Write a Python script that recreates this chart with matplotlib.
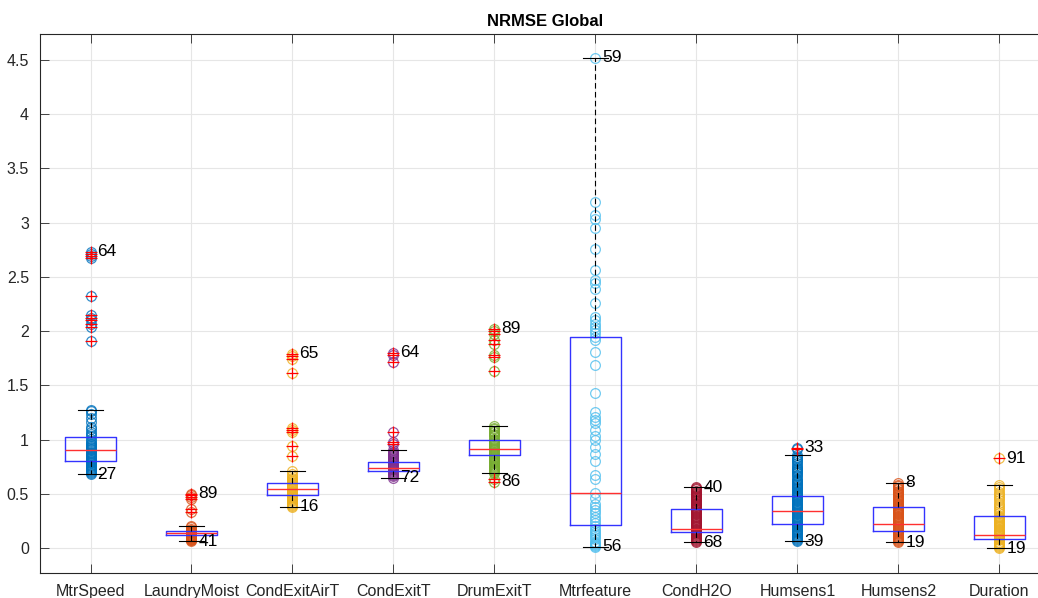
import matplotlib
matplotlib.use("Agg")
import matplotlib.pyplot as plt

plt.rcParams['font.family'] = ['Liberation Sans', 'DejaVu Sans']

# nombres de las variables
names = ['MtrSpeed', 'LaundryMoist', 'CondExitAirT', 'CondExitT', 'DrumExitT',
         'Mtrfeature', 'CondH2O', 'Humsens1', 'Humsens2', 'Duration']

# NRMSE de cada ensayo por variable
mtrspeed = [2.73, 2.71, 2.69, 2.67, 2.32, 2.15, 2.12, 2.10, 2.07, 2.04, 1.91,
            1.27, 1.26, 1.24, 1.20, 1.16, 1.12, 1.10, 1.07, 1.05, 1.03, 1.01, 0.99,
            0.97, 0.96, 0.95, 0.94, 0.93, 0.92, 0.91, 0.90, 0.89, 0.88, 0.87, 0.86,
            0.85, 0.84, 0.83, 0.82, 0.81, 0.80, 0.79, 0.78, 0.77, 0.76, 0.75, 0.74,
            0.73, 0.72, 0.71, 0.70, 0.69, 0.68]
laundrymoist = [0.50, 0.49, 0.47, 0.45, 0.36, 0.335,
                0.20, 0.19, 0.18, 0.17, 0.16, 0.155, 0.15, 0.145, 0.14, 0.135, 0.13,
                0.125, 0.12, 0.115, 0.11, 0.105, 0.10, 0.095, 0.09, 0.085, 0.08,
                0.075, 0.072, 0.065]
condexitairt = [1.79, 1.77, 1.74, 1.61, 1.11, 1.09, 1.07, 0.94, 0.85,
                0.71, 0.68, 0.66, 0.65, 0.64, 0.63, 0.62, 0.61, 0.60, 0.59, 0.58,
                0.57, 0.56, 0.555, 0.55, 0.54, 0.53, 0.52, 0.51, 0.50, 0.49, 0.48,
                0.47, 0.46, 0.45, 0.44, 0.43, 0.42, 0.41, 0.40, 0.39, 0.38]
condexitt = [1.80, 1.78, 1.72, 1.07, 0.98, 0.96,
             0.90, 0.89, 0.88, 0.87, 0.86, 0.85, 0.84, 0.83, 0.82, 0.81, 0.80, 0.79,
             0.78, 0.77, 0.76, 0.755, 0.75, 0.745, 0.74, 0.735, 0.73, 0.725, 0.72,
             0.71, 0.70, 0.69, 0.68, 0.67, 0.66, 0.65]
drumexitt = [2.02, 2.00, 1.97, 1.92, 1.88, 1.78, 1.76, 1.63, 0.64, 0.61,
             1.13, 1.11, 1.10, 1.08, 1.07, 1.05, 1.04, 1.03, 1.01, 1.00, 0.99, 0.98,
             0.97, 0.96, 0.95, 0.94, 0.93, 0.92, 0.91, 0.90, 0.89, 0.88, 0.87, 0.86,
             0.85, 0.84, 0.83, 0.82, 0.81, 0.80, 0.79, 0.78, 0.77, 0.76, 0.75, 0.74,
             0.73, 0.72, 0.71, 0.70, 0.69]
mtrfeature = [4.52, 3.19, 3.07, 3.03, 2.95, 2.76, 2.56, 2.47, 2.44, 2.39, 2.26,
              2.13, 2.10, 2.07, 2.04, 2.01, 1.98, 1.95, 1.92, 1.81, 1.69, 1.43,
              1.25, 1.21, 1.18, 1.15, 1.09, 1.03, 1.00, 0.93, 0.87, 0.80, 0.67,
              0.64, 0.505, 0.46, 0.41, 0.38, 0.35, 0.32, 0.29, 0.26, 0.23, 0.20,
              0.18, 0.16, 0.14, 0.12, 0.10, 0.08, 0.06, 0.05, 0.04, 0.03, 0.02, 0.01]
condh2o = [0.56, 0.55, 0.54, 0.53, 0.52, 0.51, 0.50, 0.49, 0.48, 0.47, 0.46,
           0.45, 0.44, 0.43, 0.42, 0.41, 0.40, 0.39, 0.38, 0.37, 0.36, 0.35, 0.34,
           0.33, 0.32, 0.31, 0.30, 0.29, 0.28, 0.27, 0.26, 0.25, 0.24, 0.23, 0.22,
           0.21, 0.20, 0.19, 0.18, 0.17, 0.16, 0.15, 0.14, 0.13, 0.12, 0.11, 0.10,
           0.09, 0.08, 0.07, 0.065, 0.053]
humsens1 = [0.925, 0.915,
            0.858, 0.84, 0.83, 0.81, 0.80, 0.78, 0.77, 0.75, 0.74, 0.73, 0.72,
            0.71, 0.70, 0.69, 0.67, 0.66, 0.64, 0.63, 0.62, 0.61, 0.60, 0.59, 0.58,
            0.57, 0.56, 0.55, 0.54, 0.53, 0.52, 0.51, 0.50, 0.49, 0.48, 0.47, 0.46,
            0.45, 0.44, 0.43, 0.42, 0.41, 0.40, 0.39, 0.38, 0.37, 0.36, 0.35, 0.34,
            0.33, 0.32, 0.31, 0.30, 0.29, 0.28, 0.27, 0.26, 0.25, 0.24, 0.23, 0.22,
            0.21, 0.20, 0.19, 0.18, 0.17, 0.16, 0.15, 0.14, 0.13, 0.12, 0.11, 0.10,
            0.09, 0.08, 0.07, 0.065]
humsens2 = [0.60, 0.58, 0.57, 0.55, 0.54, 0.53, 0.52, 0.51, 0.50, 0.49, 0.48,
            0.47, 0.46, 0.45, 0.44, 0.43, 0.42, 0.41, 0.40, 0.39, 0.38, 0.37, 0.36,
            0.35, 0.34, 0.33, 0.32, 0.31, 0.30, 0.29, 0.28, 0.27, 0.26, 0.25, 0.24,
            0.23, 0.22, 0.21, 0.20, 0.19, 0.18, 0.17, 0.16, 0.15, 0.14, 0.13, 0.12,
            0.11, 0.10, 0.09, 0.08, 0.07, 0.065, 0.053]
duration = [0.83,
            0.584, 0.56, 0.54, 0.52, 0.50, 0.48, 0.46, 0.44, 0.42, 0.40, 0.38,
            0.36, 0.34, 0.32, 0.30, 0.29, 0.28, 0.27, 0.26, 0.25, 0.24, 0.23, 0.22,
            0.21, 0.20, 0.19, 0.18, 0.17, 0.16, 0.15, 0.14, 0.13, 0.12, 0.11, 0.10,
            0.09, 0.08, 0.07, 0.06, 0.05, 0.04, 0.03, 0.02, 0.01, 0.0]
data = [mtrspeed, laundrymoist, condexitairt, condexitt, drumexitt,
        mtrfeature, condh2o, humsens1, humsens2, duration]

# estadisticos de las cajas
q1 = [0.80, 0.12, 0.49, 0.71, 0.86, 0.21, 0.15, 0.224, 0.154, 0.083]
med = [0.90, 0.138, 0.545, 0.74, 0.915, 0.505, 0.18, 0.341, 0.224, 0.12]
q3 = [1.02, 0.157, 0.60, 0.79, 1.00, 1.95, 0.357, 0.477, 0.375, 0.30]
whislo = [0.68, 0.065, 0.38, 0.65, 0.69, 0.01, 0.053, 0.065, 0.053, 0.0]
whishi = [1.27, 0.20, 0.71, 0.90, 1.13, 4.52, 0.56, 0.858, 0.60, 0.584]

# numero de ensayo del maximo y del minimo
lab_max = [64, 89, 65, 64, 89, 59, 40, 33, 8, 91]
lab_min = [27, 41, 16, 72, 86, 56, 68, 39, 19, 19]

colores = ['#0072BD', '#D95319', '#EDB120', '#7E2F8E', '#77AC30',
           '#4DBEEE', '#A2142F', '#0072BD', '#D95319', '#EDB120']

fig = plt.figure(figsize=(10.38, 5.98), dpi=100)
ax = fig.add_axes([40 / 1038, 25 / 598, 1010 / 1038, 539 / 598])

for i, vals in enumerate(data):
    x = i + 1
    ax.plot([x] * len(vals), vals, 'o', ms=7, mfc='none', mec=colores[i],
            mew=0.9, alpha=0.8, zorder=2)

stats = []
for i in range(len(names)):
    stats.append({'med': med[i], 'q1': q1[i], 'q3': q3[i],
                  'whislo': whislo[i], 'whishi': whishi[i], 'fliers': []})
ax.bxp(stats, positions=range(1, 11), widths=0.5, capwidths=0.25,
       showfliers=False, manage_ticks=False,
       boxprops=dict(color='#3333ff', lw=1.0),
       medianprops=dict(color='#ff3030', lw=1.0),
       whiskerprops=dict(color='black', lw=0.8, linestyle=(0, (5, 3))),
       capprops=dict(color='black', lw=0.8), zorder=3)

# atipicos y etiquetas
for i, vals in enumerate(data):
    x = i + 1
    out = [v for v in vals if v > whishi[i] or v < whislo[i]]
    ax.plot([x] * len(out), out, '+', ms=9, mew=0.9, color='red', zorder=4)
    ax.text(x + 0.07, max(vals), str(lab_max[i]), fontsize=12.5, va='center',
            ha='left', zorder=5)
    ax.text(x + 0.07, min(vals), str(lab_min[i]), fontsize=12.5, va='center',
            ha='left', zorder=5)

ax.set_xlim(0.5, 10.5)
ax.set_ylim(-0.23, 4.74)
ax.set_xticks(range(1, 11))
ax.set_xticklabels(names)
ax.set_yticks([0, 0.5, 1, 1.5, 2, 2.5, 3, 3.5, 4, 4.5])
ax.set_yticklabels(['0', '0.5', '1', '1.5', '2', '2.5', '3', '3.5', '4', '4.5'])
ax.tick_params(direction='in', top=True, right=True, length=6.5, width=0.6,
               labelsize=11.5, colors='#262626', pad=8)
ax.grid(True, color='#e6e6e6', lw=0.8, zorder=0)
ax.set_axisbelow(True)
for s in ax.spines.values():
    s.set_color('#262626')
    s.set_linewidth(0.8)
ax.set_title('NRMSE Global', fontsize=12, fontweight='bold', pad=6)

fig.savefig('out.png', dpi=100)
